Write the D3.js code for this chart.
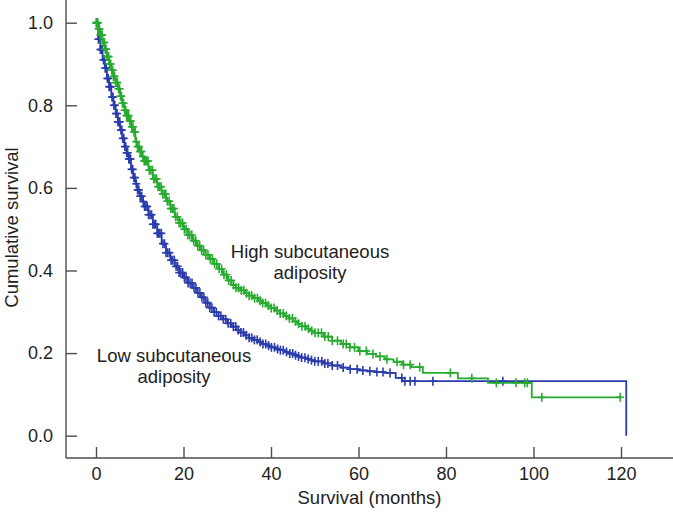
<!DOCTYPE html>
<html>
<head>
<meta charset="utf-8">
<script src="https://cdn.jsdelivr.net/npm/d3@7"></script>
<style>
  html, body { margin: 0; padding: 0; background: #fff; }
  svg { display: block; font-family: "Liberation Sans", Arial, sans-serif; }
</style>
</head>
<body>
<svg id="chart" width="673" height="515"></svg>
<script>
// ---- data ----
const xTicks = [0, 20, 40, 60, 80, 100, 120];
const yTicks = [0.0, 0.2, 0.4, 0.6, 0.8, 1.0];

// Low subcutaneous adiposity (blue): [months, survival]
const lowTimes = [0,0.5,1,1.5,2,2.5,3,3.5,4,4.5,5,5.5,6,6.5,7,7.5,8,8.5,9,9.5,10,10.5,11,12,13,14,15,16,17,18,19,20,21,22,23,24,25,26,27,28,29,30,31,32,33,34,35,36,37,38,39,40,41,42,43,44,45,46,47,48,49,50,52,54,56,58,60,62,64,66,68.5,70,121.2];
const lowSurv  = [1.0,0.96,0.935,0.91,0.89,0.865,0.845,0.82,0.80,0.78,0.76,0.74,0.72,0.70,0.685,0.67,0.645,0.625,0.61,0.595,0.58,0.567,0.555,0.535,0.512,0.49,0.465,0.443,0.425,0.41,0.395,0.383,0.37,0.358,0.346,0.335,0.322,0.31,0.299,0.29,0.282,0.272,0.264,0.256,0.25,0.243,0.237,0.232,0.227,0.222,0.218,0.214,0.21,0.207,0.203,0.199,0.195,0.192,0.189,0.186,0.183,0.18,0.175,0.17,0.165,0.161,0.158,0.156,0.154,0.152,0.14,0.132,0.0];
const lowCensor = [0.1,0.3,0.55,0.8,1.0,1.2,1.45,1.7,1.9,2.1,2.35,2.6,2.8,3.0,3.2,3.4,3.65,3.9,4.1,4.3,4.55,4.8,5.0,5.2,5.45,5.7,5.9,6.1,6.35,6.6,6.8,7.0,7.25,7.5,7.7,7.9,8.15,8.4,8.65,8.9,9.2,9.5,9.8,10.1,10.45,10.8,11.1,11.4,11.7,12.0,12.35,12.7,13.0,13.3,13.65,14.0,14.3,14.6,14.95,15.3,15.65,16.0,16.4,16.8,17.15,17.5,17.9,18.3,18.65,19.0,19.4,19.8,20.2,20.6,21.05,21.5,21.95,22.4,22.85,23.3,23.75,24.2,24.65,25.1,25.55,26.0,26.5,27.0,27.5,28.0,28.55,29.1,29.65,30.2,30.8,31.4,31.95,32.5,33.1,33.7,34.35,35.0,35.6,36.2,36.85,37.5,38.15,38.8,39.45,40.1,40.8,41.5,42.15,42.8,43.55,44.3,44.95,45.6,46.3,47.0,47.75,48.5,49.25,50.0,50.8,51.6,52.3,53.0,54.0,55.2,56.5,58.1,59.7,61.0,62.6,64.2,65.6,67.2,69.9,70.6,71.8,72.9,77.0,93.0];

// High subcutaneous adiposity (green): [months, survival]
const highTimes = [0,0.5,1,1.5,2,2.5,3,3.5,4,4.5,5,5.5,6,6.5,7,7.5,8,8.5,9,9.5,10,10.5,11,12,13,14,15,16,17,18,19,20,21,22,23,24,25,26,27,28,29,30,31,32,33,34,35,36,37,38,39,40,41,42,43,44,45,46,47,48,49,50,52,54,56,58,60,62,64,66,68,70,72,74.7,82.7,89.6,99.6,119.8];
const highSurv  = [1.0,0.985,0.97,0.952,0.936,0.918,0.9,0.885,0.87,0.855,0.84,0.822,0.805,0.788,0.775,0.762,0.748,0.735,0.712,0.70,0.688,0.676,0.665,0.643,0.622,0.603,0.585,0.568,0.55,0.53,0.515,0.5,0.486,0.472,0.46,0.449,0.438,0.428,0.416,0.404,0.39,0.376,0.365,0.358,0.352,0.345,0.339,0.333,0.327,0.321,0.315,0.309,0.303,0.296,0.29,0.284,0.277,0.271,0.265,0.259,0.254,0.249,0.24,0.23,0.222,0.214,0.205,0.198,0.192,0.185,0.179,0.172,0.166,0.152,0.139,0.128,0.093,0.093];
const highCensor = [0.1,0.2,0.4,0.6,0.8,1.0,1.2,1.4,1.65,1.9,2.1,2.3,2.5,2.7,2.9,3.1,3.35,3.6,3.8,4.0,4.25,4.5,4.7,4.9,5.15,5.4,5.6,5.8,6.05,6.3,6.55,6.8,7.0,7.2,7.45,7.7,7.95,8.2,8.45,8.7,8.95,9.2,9.5,9.8,10.1,10.4,10.7,11.0,11.3,11.6,11.9,12.2,12.55,12.9,13.2,13.5,13.85,14.2,14.55,14.9,15.25,15.6,15.95,16.3,16.7,17.1,17.45,17.8,18.2,18.6,19.0,19.4,19.8,20.2,20.6,21.0,21.45,21.9,22.35,22.8,23.25,23.7,24.15,24.6,25.1,25.6,26.1,26.6,27.1,27.6,28.15,28.7,29.25,29.8,30.35,30.9,31.45,32.0,32.6,33.2,33.8,34.4,35.0,35.6,36.25,36.9,37.5,38.1,38.75,39.4,40.05,40.7,41.4,42.1,42.8,43.5,44.2,44.9,45.6,46.3,47.05,47.8,48.55,49.3,50.05,50.8,51.55,52.3,53.1,54.0,55.2,56.5,57.2,58.0,59.1,60.3,61.8,63.3,64.9,66.5,68.8,70.3,71.8,74.0,81.0,85.9,91.5,96.0,98.0,98.6,101.9,119.8];

const series = [
  { name: "low",  times: lowTimes,  surv: lowSurv,  censor: lowCensor,  color: "#2a3cab", label: ["Low subcutaneous", "adiposity"] },
  { name: "high", times: highTimes, surv: highSurv, censor: highCensor, color: "#27ab2f", label: ["High subcutaneous", "adiposity"] }
];

// ---- layout ----
const svg = d3.select("#chart");
const x = d3.scaleLinear().domain([0, 120]).range([96, 621]);
const y = d3.scaleLinear().domain([0, 1]).range([435.7, 22.7]);
const axisX0 = 66, axisY0 = 458;
const axisColor = "#4d4d4d";

// axis lines
svg.append("line").attr("x1", axisX0).attr("x2", axisX0).attr("y1", 0).attr("y2", axisY0)
  .attr("stroke", axisColor).attr("stroke-width", 1.4);
svg.append("line").attr("x1", axisX0).attr("x2", 673).attr("y1", axisY0).attr("y2", axisY0)
  .attr("stroke", axisColor).attr("stroke-width", 1.4);

const gx = svg.append("g").attr("transform", `translate(0,${axisY0})`)
  .call(d3.axisBottom(x).tickValues(xTicks).tickSize(-11).tickPadding(9).tickFormat(d3.format("d")));
const gy = svg.append("g").attr("transform", `translate(${axisX0},0)`)
  .call(d3.axisLeft(y).tickValues(yTicks).tickSize(-11).tickPadding(13).tickFormat(d3.format(".1f")));
[gx, gy].forEach(g => {
  g.select(".domain").remove();
  g.selectAll(".tick line").attr("stroke", axisColor).attr("stroke-width", 1.4);
  g.selectAll(".tick text").attr("fill", "#222").style("font-size", "18px")
    .style("font-family", "'Liberation Sans', Arial, sans-serif");
});

// axis titles
svg.append("text").attr("x", 369.5).attr("y", 504).attr("text-anchor", "middle")
  .attr("fill", "#222").style("font-size", "18.5px").text("Survival (months)");
svg.append("text").attr("transform", "translate(18,227.5) rotate(-90)").attr("text-anchor", "middle")
  .attr("fill", "#222").style("font-size", "18.5px").text("Cumulative survival");

// curves
const line = d3.line().x(d => x(d[0])).y(d => y(d[1])).curve(d3.curveStepAfter);
const bis = d3.bisector(d => d).right;
series.forEach(s => {
  const pts = s.times.map((t, i) => [t, s.surv[i]]);
  svg.append("path").datum(pts).attr("d", line)
    .attr("fill", "none").attr("stroke", s.color).attr("stroke-width", 1.8);
  const g = svg.append("g").attr("stroke", s.color).attr("stroke-width", 1.6);
  s.censor.forEach(t => {
    const i = Math.max(0, bis(s.times, t) - 1);
    const cx = x(t), cy = y(s.surv[i]);
    g.append("line").attr("x1", cx).attr("x2", cx).attr("y1", cy - 4.5).attr("y2", cy + 4.5);
    g.append("line").attr("x1", cx - 4).attr("x2", cx + 4).attr("y1", cy).attr("y2", cy);
  });
});

// annotations
const ann = [
  { lines: series[1].label, cx: 310, y0: 258 },
  { lines: series[0].label, cx: 174, y0: 362 }
];
ann.forEach(a => {
  a.lines.forEach((t, i) => {
    svg.append("text").attr("x", a.cx).attr("y", a.y0 + i * 21).attr("text-anchor", "middle")
      .attr("fill", "#222").style("font-size", "18.5px").text(t);
  });
});
</script>
</body>
</html>
